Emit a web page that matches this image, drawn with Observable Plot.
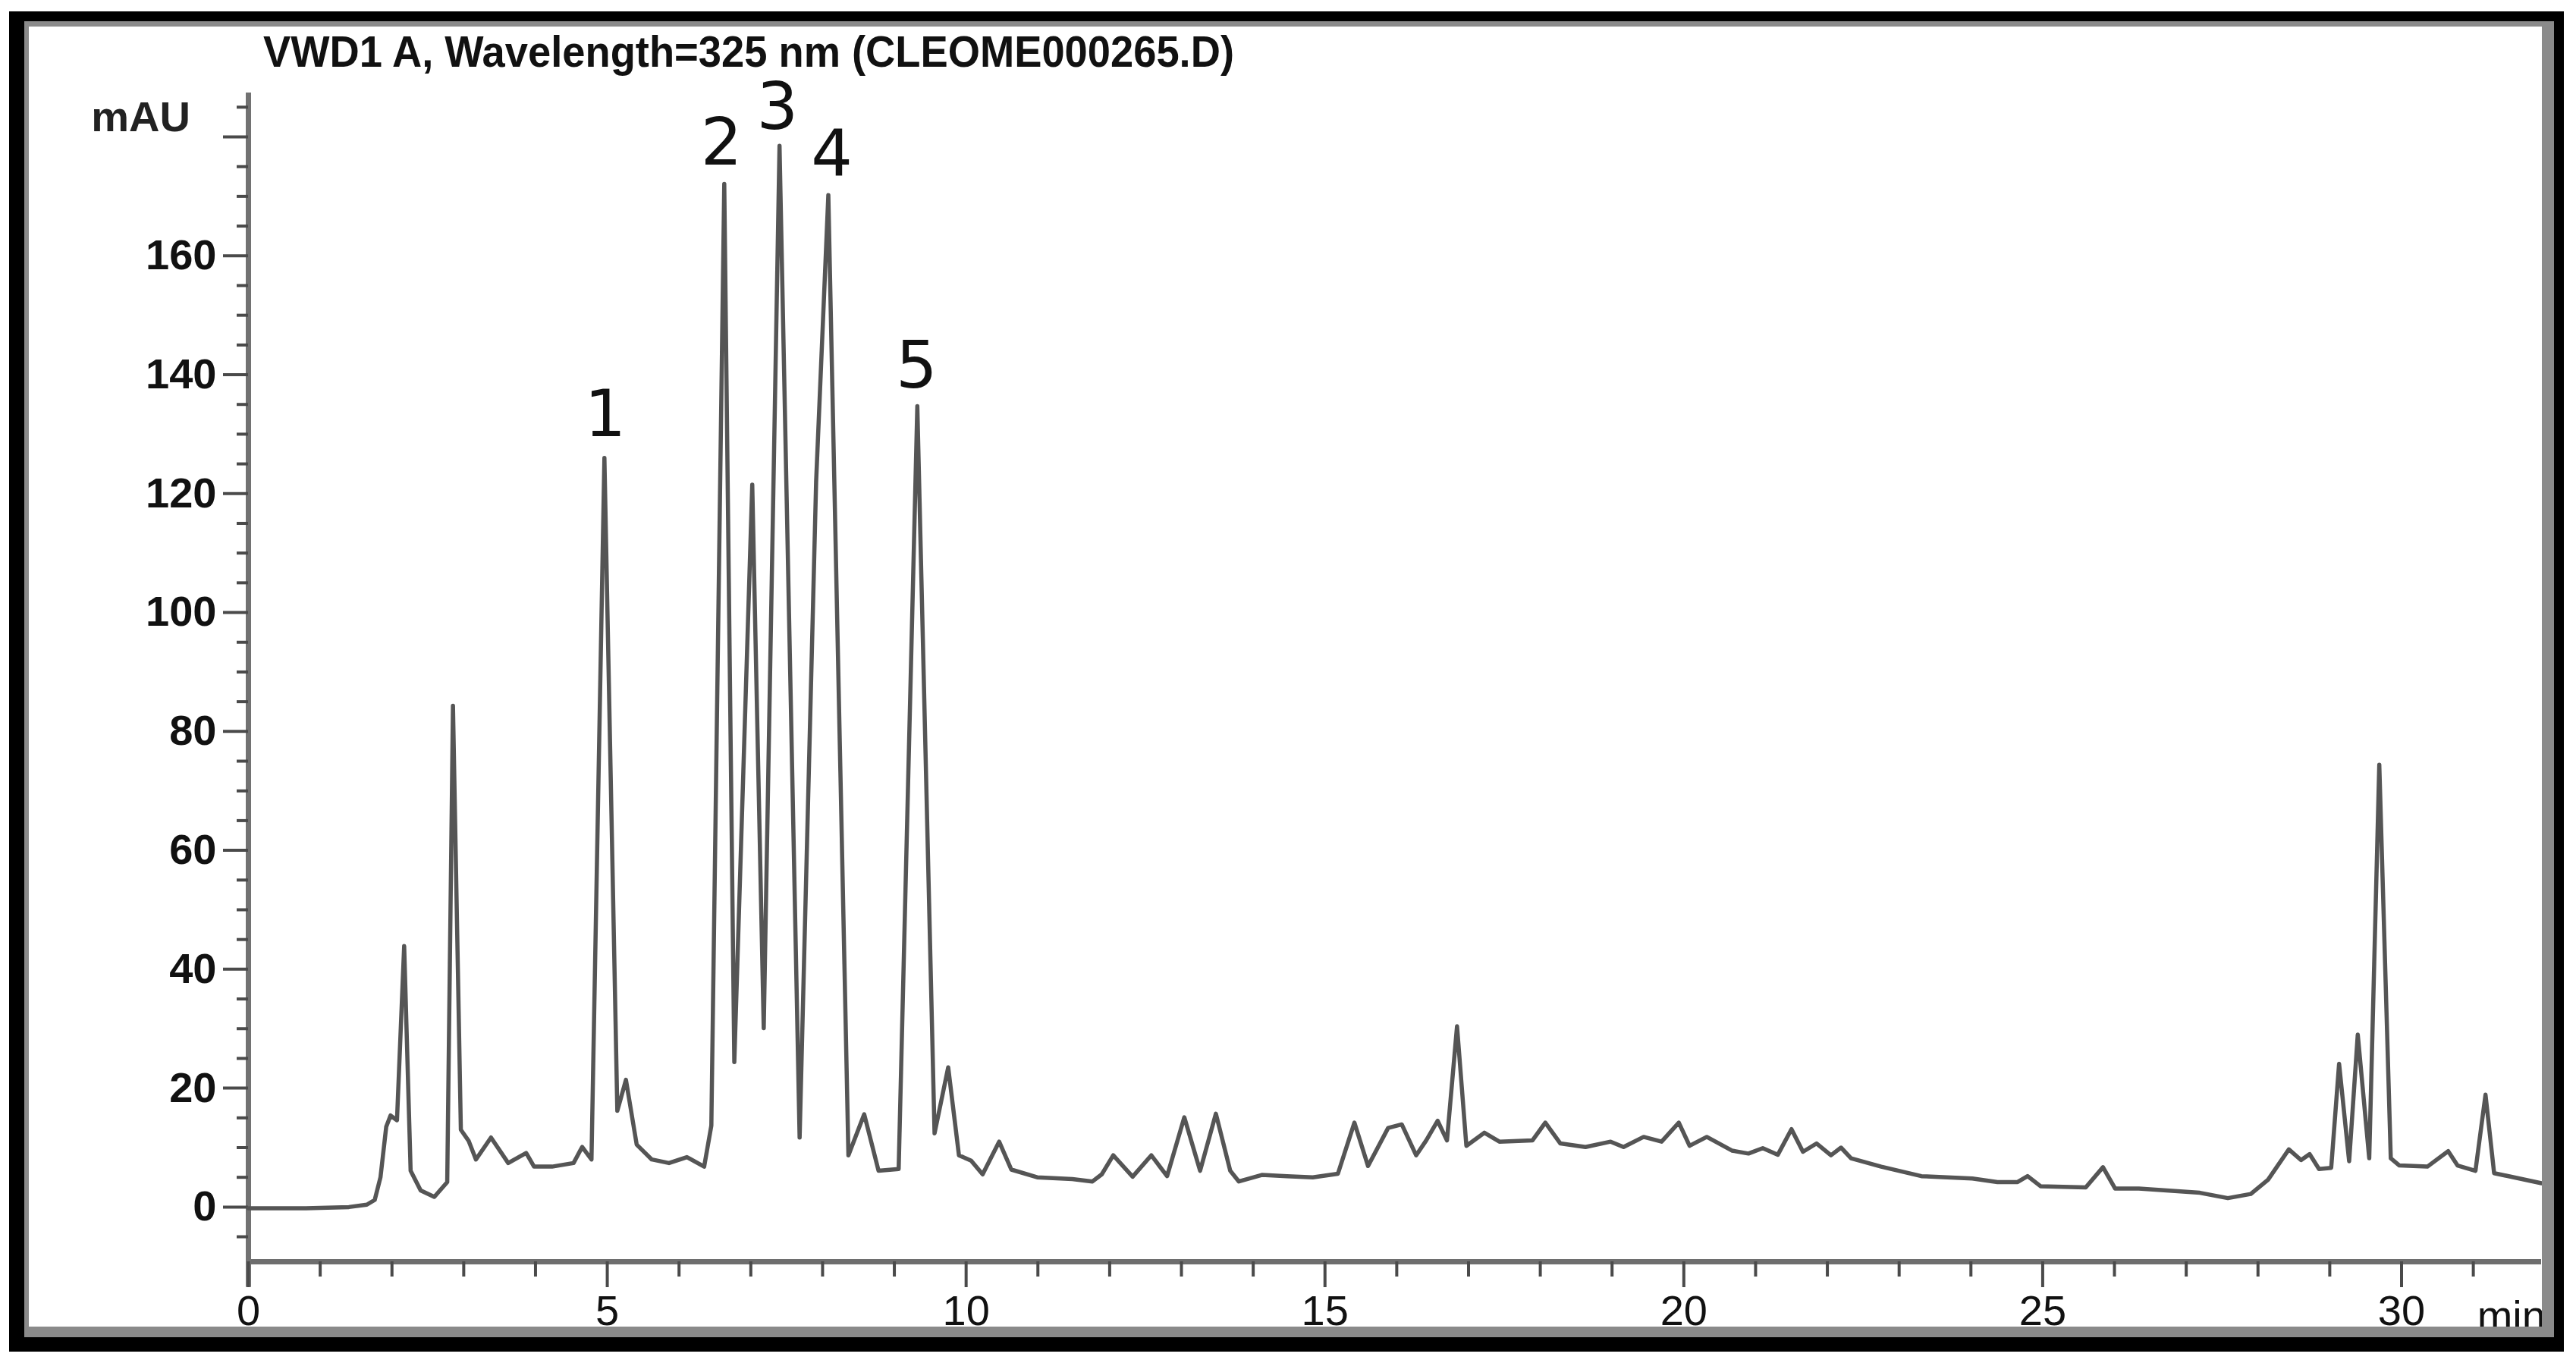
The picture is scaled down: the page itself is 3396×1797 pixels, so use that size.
<!DOCTYPE html>
<html><head><meta charset="utf-8">
<script src="https://cdn.jsdelivr.net/npm/d3@7"></script>
<script src="https://cdn.jsdelivr.net/npm/@observablehq/plot@0.6"></script>
<style>
html,body{margin:0;padding:0;background:#fff;width:3396px;height:1797px;overflow:hidden;}
#chart{position:absolute;left:0;top:0;}
#frame{position:absolute;left:12px;top:15px;width:3368px;height:1767px;box-sizing:border-box;border-style:solid;border-color:#000;border-width:13px 13px 19px 20px;pointer-events:none;}
#frame-inner{position:absolute;left:0;top:0;right:0;bottom:0;box-sizing:border-box;border-style:solid;border-color:#8a8a8a;border-width:7px 16px 14px 6px;}
</style></head>
<body><div id="chart"></div><div id="frame"><div id="frame-inner"></div></div>
<script>
// ---- data ----
const titleText = "VWD1 A, Wavelength=325 nm (CLEOME000265.D)";
const times = [0.00,0.80,1.40,1.65,1.76,1.84,1.92,1.98,2.07,2.17,2.26,2.40,2.59,2.77,2.85,2.96,3.07,3.17,3.38,3.62,3.87,3.98,4.23,4.53,4.65,4.78,4.96,5.14,5.26,5.41,5.62,5.86,6.11,6.35,6.45,6.63,6.77,7.02,7.18,7.40,7.68,7.91,8.08,8.36,8.58,8.78,9.06,9.32,9.56,9.75,9.90,10.07,10.23,10.46,10.63,10.99,11.48,11.76,11.89,12.05,12.32,12.58,12.80,13.04,13.26,13.48,13.68,13.80,14.12,14.47,14.83,15.18,15.41,15.60,15.88,16.07,16.27,16.41,16.57,16.70,16.84,16.97,17.22,17.43,17.89,18.07,18.28,18.63,18.98,19.16,19.44,19.69,19.93,20.08,20.32,20.67,20.90,21.10,21.31,21.50,21.66,21.85,22.05,22.19,22.33,22.75,23.31,24.02,24.37,24.65,24.79,24.97,25.60,25.84,26.01,26.34,27.19,27.58,27.90,28.14,28.43,28.60,28.72,28.85,29.02,29.13,29.27,29.39,29.55,29.69,29.85,29.97,30.36,30.65,30.78,31.03,31.17,31.29,31.95];
const absorbance = [-0.2,-0.2,0.0,0.4,1.2,5.0,13.5,15.4,14.6,43.9,6.1,2.8,1.7,4.2,84.3,13.0,11.1,8.0,11.7,7.4,9.1,6.8,6.8,7.4,10.1,8.0,126.0,16.2,21.4,10.5,8.0,7.4,8.4,6.8,13.7,172.1,24.4,121.5,30.1,178.5,11.7,122.0,170.2,8.7,15.6,6.1,6.4,134.7,12.4,23.5,8.7,7.8,5.5,11.0,6.3,5.0,4.7,4.3,5.5,8.7,5.1,8.7,5.2,15.1,6.1,15.7,6.1,4.3,5.4,5.2,5.0,5.6,14.2,6.9,13.3,13.9,8.7,11.2,14.5,11.2,30.4,10.3,12.5,11.0,11.2,14.2,10.7,10.1,11.0,10.1,11.8,11.0,14.2,10.3,11.8,9.5,9.0,9.9,8.8,13.1,9.3,10.7,8.7,10.0,8.2,6.8,5.2,4.8,4.2,4.2,5.2,3.5,3.3,6.7,3.1,3.1,2.4,1.5,2.2,4.6,9.7,7.9,8.9,6.4,6.6,24.1,7.7,29.0,8.2,74.4,8.2,7.0,6.8,9.4,7.0,6.1,18.9,5.7,4.0];

const peakLabels = ["1","2","3","4","5"];
const peakLabelTimes = [4.97,6.59,7.37,8.13,9.31];
const peakLabelValues = [133.2,178.8,184.8,177.0,141.4];

const xMajorTicks = [0,5,10,15,20,25,30];
const xMinorTicks = d3.range(1,32).filter(d => d % 5 !== 0);
const yMajorTicks = [0,20,40,60,80,100,120,140,160,180];
const yLabelled = [0,20,40,60,80,100,120,140,160];
const yMinorTicks = d3.range(-5,186,5).filter(d => d % 20 !== 0);

const xDomain = [0, 31.95];
const yDomain = [-9.2, 187.4];
const yAxisBottom = -13.5;
const yUnitLabel = {text: "mAU", t: -1.5, v: 183.2};
const xUnitLabel = {text: "min", t: 31.53, v: -18.4};

// ---- chart ----
const trace = times.map((t, i) => ({t, v: absorbance[i]}));
const peaks = peakLabels.map((s, i) => ({s, t: peakLabelTimes[i], v: peakLabelValues[i]}));
const FONT = "'Liberation Sans', Arial, Helvetica, sans-serif";

const chart = Plot.plot({
  width: 3396, height: 1797,
  marginLeft: 327, marginRight: 46, marginTop: 122, marginBottom: 134,
  x: {domain: xDomain},
  y: {domain: yDomain},
  style: {background: "transparent", fontFamily: FONT, color: "#111", overflow: "visible"},
  marks: [
    Plot.ruleY([yDomain[0]], {stroke: "#6e6e6e", strokeWidth: 7}),
    Plot.ruleX([0], {y1: yAxisBottom, y2: yDomain[1], stroke: "#727272", strokeWidth: 7}),
    Plot.axisY(yMinorTicks, {anchor: "left", tickSize: 15, tickFormat: () => "", label: null, stroke: "#4a4a4a", strokeWidth: 4}),
    Plot.axisY(yMajorTicks, {anchor: "left", tickSize: 33, tickPadding: 9, tickFormat: d => yLabelled.includes(d) ? String(d) : "",
      label: null, fontSize: 56, fontWeight: "bold", fill: "#111", stroke: "#4a4a4a", strokeWidth: 4}),
    Plot.axisX(xMinorTicks, {anchor: "bottom", tickSize: 20, tickFormat: () => "", label: null, stroke: "#4a4a4a", strokeWidth: 4}),
    Plot.axisX(xMajorTicks, {anchor: "bottom", tickSize: 34, tickPadding: 10, label: null,
      fontSize: 56, fill: "#111", stroke: "#4a4a4a", strokeWidth: 4}),
    Plot.line(trace, {x: "t", y: "v", stroke: "#555", strokeWidth: 5.5, strokeLinejoin: "round"}),
    Plot.text(peaks, {x: "t", y: "v", text: "s", fontSize: 86, fontFamily: "'DejaVu Sans', sans-serif",
      fill: "#111", textAnchor: "middle", lineAnchor: "middle"}),
    Plot.text([yUnitLabel], {x: "t", y: "v", text: "text", fontSize: 56, fontWeight: "bold", fill: "#222",
      textAnchor: "middle", lineAnchor: "middle"}),
    Plot.text([xUnitLabel], {x: "t", y: "v", text: "text", fontSize: 56, fill: "#111",
      textAnchor: "middle", lineAnchor: "middle"})
  ]
});

d3.select(chart).append("text")
  .attr("x", 347).attr("y", 88)
  .attr("text-anchor", "start")
  .attr("font-family", FONT).attr("font-size", 58).attr("font-weight", "bold").attr("fill", "#111")
  .attr("textLength", 1280).attr("lengthAdjust", "spacingAndGlyphs")
  .text(titleText);

document.getElementById("chart").appendChild(chart);
</script>
</body></html>
